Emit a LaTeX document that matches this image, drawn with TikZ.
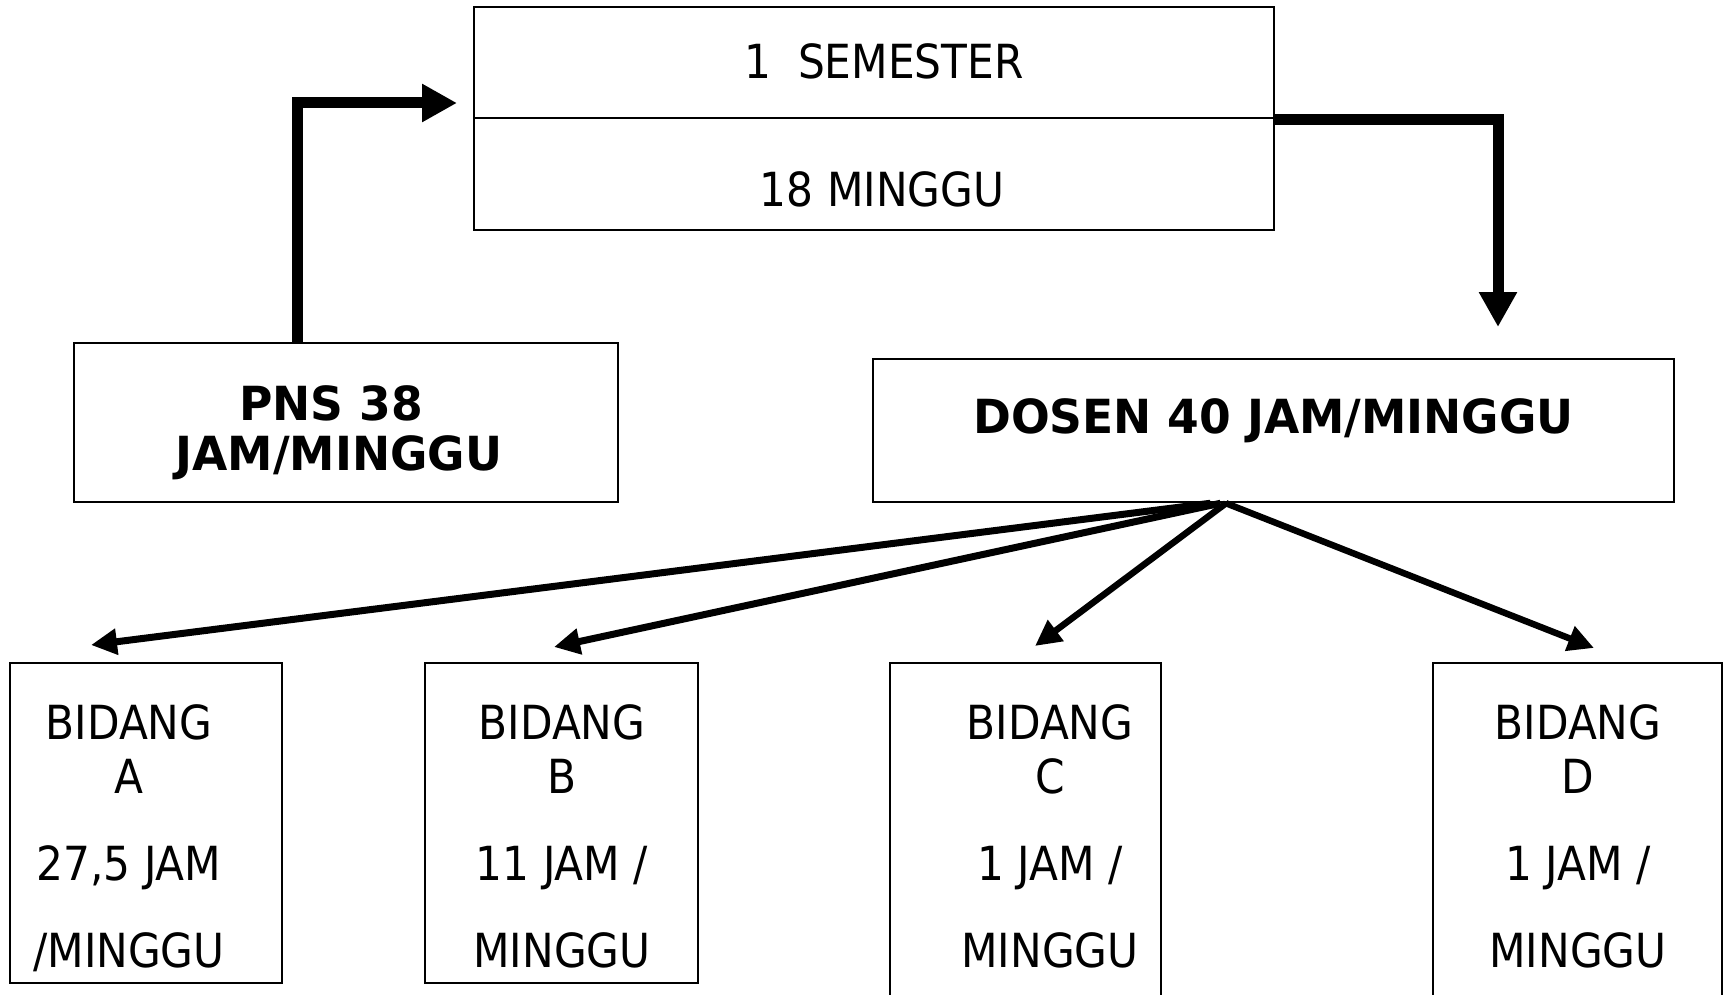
\documentclass[tikz,border=0pt]{standalone}
\usepackage{fontspec}
\setmainfont{DejaVu Sans}[FakeStretch=0.9]
\newfontfamily\boldfont{DejaVu Sans}[FakeStretch=0.97]
\usetikzlibrary{arrows.meta}
\begin{document}
\begin{tikzpicture}[x=1pt,y=-1pt,
  box/.style={draw=black, line width=2.5pt, rectangle, inner sep=0pt},
  txt/.style={anchor=base, inner sep=0pt, font=\fontsize{47pt}{56pt}\selectfont},
  btxt/.style={anchor=base, inner sep=0pt, font=\boldfont\bfseries\fontsize{47pt}{56pt}\selectfont},
  elbow/.style={line width=11pt, -{Triangle[length=35pt,width=36pt]}},
  diag/.style={line width=7pt, -{Triangle[length=26pt,width=25pt]}}]
\useasboundingbox (0,0) rectangle (1727,995);
\clip (0,0) rectangle (1727,995);

% boxes
\node[box, minimum width=800pt, minimum height=111pt] (sem1) at (874,62.5) {};
\node[box, minimum width=800pt, minimum height=112pt] (sem2) at (874,174) {};
\node[box, minimum width=544pt, minimum height=159pt] (pns) at (346,422.5) {};
\node[box, minimum width=801pt, minimum height=143pt] (dosen) at (1273.5,430.5) {};
\node[box, minimum width=272pt, minimum height=320pt] (bA) at (146,823) {};
\node[box, minimum width=273pt, minimum height=320pt] (bB) at (561.5,823) {};
\node[box, minimum width=271pt, minimum height=352pt] (bC) at (1025.5,839) {};
\node[box, minimum width=289pt, minimum height=352pt] (bD) at (1577.5,839) {};

% texts
\node[txt] (tsem1) at (884,79) {1~~SEMESTER};
\node[txt] (tsem2) at (882,207) {18 MINGGU};
\node[btxt] (tpns1) at (331,420) {PNS 38};
\node[btxt] (tpns2) at (339,470) {JAM/MINGGU};
\node[btxt] (tdosen) at (1273.5,433) {DOSEN 40 JAM/MINGGU};

\node[txt] (tA1) at (129,739) {BIDANG};
\node[txt] (tA2) at (129,793) {A};
\node[txt] (tA3) at (129,880) {27,5 JAM};
\node[txt] (tA4) at (129,967) {/MINGGU};

\node[txt] (tB1) at (562,739) {BIDANG};
\node[txt] (tB2) at (562,793) {B};
\node[txt] (tB3) at (562,880) {11 JAM /};
\node[txt] (tB4) at (562,967) {MINGGU};

\node[txt] (tC1) at (1050,739) {BIDANG};
\node[txt] (tC2) at (1050,793) {C};
\node[txt] (tC3) at (1050,880) {1 JAM /};
\node[txt] (tC4) at (1050,967) {MINGGU};

\node[txt] (tD1) at (1578,739) {BIDANG};
\node[txt] (tD2) at (1578,793) {D};
\node[txt] (tD3) at (1578,880) {1 JAM /};
\node[txt] (tD4) at (1578,967) {MINGGU};

% arrow end points
\coordinate (tipL) at (457,103);
\coordinate (tipR) at (1498,327);
\coordinate (tipA) at (91,645);
\coordinate (tipB) at (554,647);
\coordinate (tipC) at (1035,646);
\coordinate (tipD) at (1594,648);

% connectors
\draw[elbow] ([xshift=-48.5pt]pns.north) |- (tipL);
\draw[elbow] (sem1.south east) -| (tipR);
\draw[diag] ([xshift=-63pt]dosen.south) -- (tipA);
\draw[diag] ([xshift=-53pt]dosen.south) -- (tipB);
\draw[diag, line width=6.5pt] ([xshift=-47.5pt]dosen.south) -- (tipC);
\draw[diag, line width=6.5pt] ([xshift=-47.5pt]dosen.south) -- (tipD);
\end{tikzpicture}
\end{document}
